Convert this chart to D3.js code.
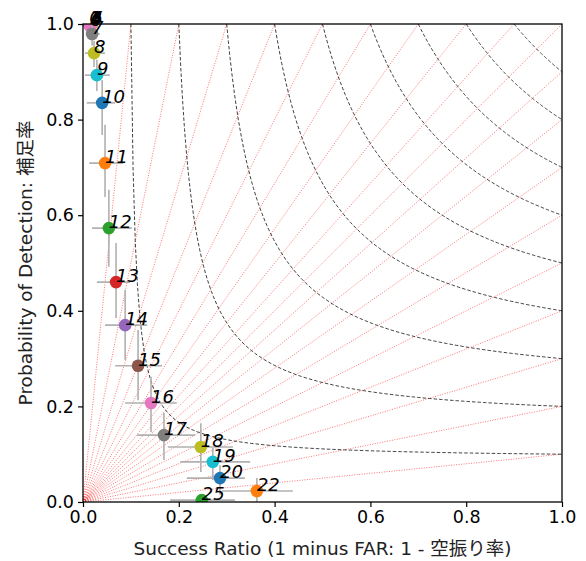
<!DOCTYPE html>
<html lang="en">
<head>
  <meta charset="UTF-8">
  <title>Performance diagram</title>
  <script src="https://d3js.org/d3.v7.min.js"></script>
  <style>
    body { margin: 0; background: #fff; }
    text { font-family: "DejaVu Sans", "Noto Sans CJK JP", sans-serif; }
  </style>
</head>
<body>
  <svg width="586" height="561"></svg>

  <script>
    // point labels (lead times) and their scores
    const labels = [0, 1, 2, 3, 4, 5, 6, 7, 8, 9, 10, 11, 12, 13, 14, 15, 16, 17, 18, 19, 20, 22, 25];
    const sr  = [0.013, 0.014, 0.015, 0.016, 0.017, 0.018, 0.015, 0.019, 0.023, 0.029, 0.040, 0.046, 0.054, 0.069, 0.088, 0.115, 0.142, 0.169, 0.246, 0.271, 0.286, 0.363, 0.248];
    const pod = [1.0, 1.0, 1.0, 1.0, 1.0, 1.0, 0.995, 0.979, 0.939, 0.893, 0.835, 0.709, 0.573, 0.460, 0.370, 0.285, 0.207, 0.140, 0.115, 0.084, 0.050, 0.023, 0.004];
    // error ranges
    const srLo  = [0.005, 0.006, 0.007, 0.008, 0.009, 0.010, 0.005, 0.006, 0.004, 0.004, 0.008, 0.013, 0.019, 0.029, 0.046, 0.067, 0.088, 0.113, 0.177, 0.203, 0.217, 0.290, 0.182];
    const srHi  = [0.024, 0.025, 0.026, 0.027, 0.028, 0.029, 0.030, 0.035, 0.046, 0.056, 0.067, 0.084, 0.102, 0.098, 0.134, 0.165, 0.196, 0.234, 0.313, 0.349, 0.338, 0.438, 0.317];
    const podLo = [0.985, 0.985, 0.985, 0.985, 0.985, 0.985, 0.975, 0.955, 0.910, 0.860, 0.768, 0.638, 0.492, 0.385, 0.297, 0.213, 0.146, 0.088, 0.063, 0.046, 0.015, 0.000, 0.000];
    const podHi = [1.0, 1.0, 1.0, 1.0, 1.0, 1.0, 1.0, 1.0, 0.965, 0.925, 0.883, 0.789, 0.653, 0.542, 0.444, 0.360, 0.262, 0.186, 0.165, 0.113, 0.077, 0.050, 0.012];

    // background reference lines
    const csiLevels = [0.1, 0.2, 0.3, 0.4, 0.5, 0.6, 0.7, 0.8, 0.9];
    const biasLevels = [0.1, 0.2, 0.3, 0.4, 0.5, 0.6, 0.7, 0.8, 0.9, 1,
                        1 / 0.9, 1 / 0.8, 1 / 0.7, 1 / 0.6, 1 / 0.5, 1 / 0.4, 1 / 0.3, 1 / 0.2, 1 / 0.1];
    const ticks = [0, 0.2, 0.4, 0.6, 0.8, 1.0];

    const colors = ["#1f77b4", "#ff7f0e", "#2ca02c", "#d62728", "#9467bd",
                    "#8c564b", "#e377c2", "#7f7f7f", "#bcbd22", "#17becf"];

    const margin = { top: 24, right: 24, bottom: 59, left: 83 };
    const width = 586 - margin.left - margin.right;
    const height = 561 - margin.top - margin.bottom;

    const svg = d3.select("svg");
    const g = svg.append("g")
      .attr("transform", `translate(${margin.left},${margin.top})`);

    const x = d3.scaleLinear().domain([0, 1]).range([0, width]);
    const y = d3.scaleLinear().domain([0, 1]).range([height, 0]);

    g.append("clipPath").attr("id", "clip")
      .append("rect").attr("width", width).attr("height", height);

    const plot = g.append("g").attr("clip-path", "url(#clip)");

    // bias lines
    plot.selectAll(".bias")
      .data(biasLevels)
      .enter().append("line")
      .attr("x1", x(0)).attr("y1", y(0))
      .attr("x2", b => x(Math.min(1, 1 / b)))
      .attr("y2", b => y(Math.min(1, b)))
      .attr("stroke", "red")
      .attr("stroke-opacity", 0.55)
      .attr("stroke-width", 1)
      .attr("stroke-dasharray", "1,1.5");

    // CSI contours
    const csiLine = d3.line().x(d => x(d[0])).y(d => y(d[1]));
    plot.selectAll(".csi")
      .data(csiLevels)
      .enter().append("path")
      .attr("d", c => {
        const pts = d3.range(0, 201).map(i => {
          const s = c + (1 - c) * i / 200;
          return [s, 1 / (1 / c + 1 - 1 / s)];
        });
        return csiLine(pts);
      })
      .attr("fill", "none")
      .attr("stroke", "#000")
      .attr("stroke-opacity", 0.75)
      .attr("stroke-width", 1)
      .attr("stroke-dasharray", "3.5,2");

    // error bars and markers
    labels.forEach((lab, i) => {
      const pg = plot.append("g");
      pg.append("line")
        .attr("x1", x(srLo[i])).attr("x2", x(srHi[i]))
        .attr("y1", y(pod[i])).attr("y2", y(pod[i]))
        .attr("stroke", "#b0b0b0").attr("stroke-width", 1.6);
      pg.append("line")
        .attr("x1", x(sr[i])).attr("x2", x(sr[i]))
        .attr("y1", y(podLo[i])).attr("y2", y(podHi[i]))
        .attr("stroke", "#b0b0b0").attr("stroke-width", 1.6);
      pg.append("circle")
        .attr("cx", x(sr[i])).attr("cy", y(pod[i]))
        .attr("r", 6.3)
        .attr("fill", colors[i % 10]);
    });

    // point labels (not clipped)
    g.selectAll(".lab")
      .data(labels)
      .enter().append("text")
      .attr("x", (d, i) => x(sr[i]))
      .attr("y", (d, i) => y(pod[i]))
      .attr("font-size", 18)
      .attr("font-style", "italic")
      .attr("fill", "#000")
      .text(d => d);

    // axes
    const xAxis = g.append("g")
      .attr("transform", `translate(0,${height})`)
      .call(d3.axisBottom(x).tickValues(ticks).tickFormat(d3.format(".1f")).tickSizeOuter(0).tickSize(5).tickPadding(4));
    const yAxis = g.append("g")
      .call(d3.axisLeft(y).tickValues(ticks).tickFormat(d3.format(".1f")).tickSizeOuter(0).tickSize(5).tickPadding(4));
    [xAxis, yAxis].forEach(a => {
      a.selectAll("text").attr("font-size", 17.5).attr("fill", "#000")
        .style("font-family", "'DejaVu Sans', sans-serif");
      a.selectAll("line").attr("stroke", "#000").attr("stroke-width", 1.2);
      a.select(".domain").remove();
    });

    // frame
    g.append("rect")
      .attr("width", width).attr("height", height)
      .attr("fill", "none").attr("stroke", "#000").attr("stroke-width", 1.3);

    svg.append("text")
      .attr("x", margin.left + width / 2)
      .attr("y", 555)
      .attr("text-anchor", "middle")
      .attr("font-size", 18.5)
      .attr("fill", "#222")
      .text("Success Ratio (1 minus FAR: 1 - 空振り率)");

    svg.append("text")
      .attr("transform", `translate(32,${margin.top + height / 2}) rotate(-90)`)
      .attr("text-anchor", "middle")
      .attr("font-size", 18.5)
      .attr("fill", "#222")
      .text("Probability of Detection: 補足率");
  </script>
</body>
</html>
